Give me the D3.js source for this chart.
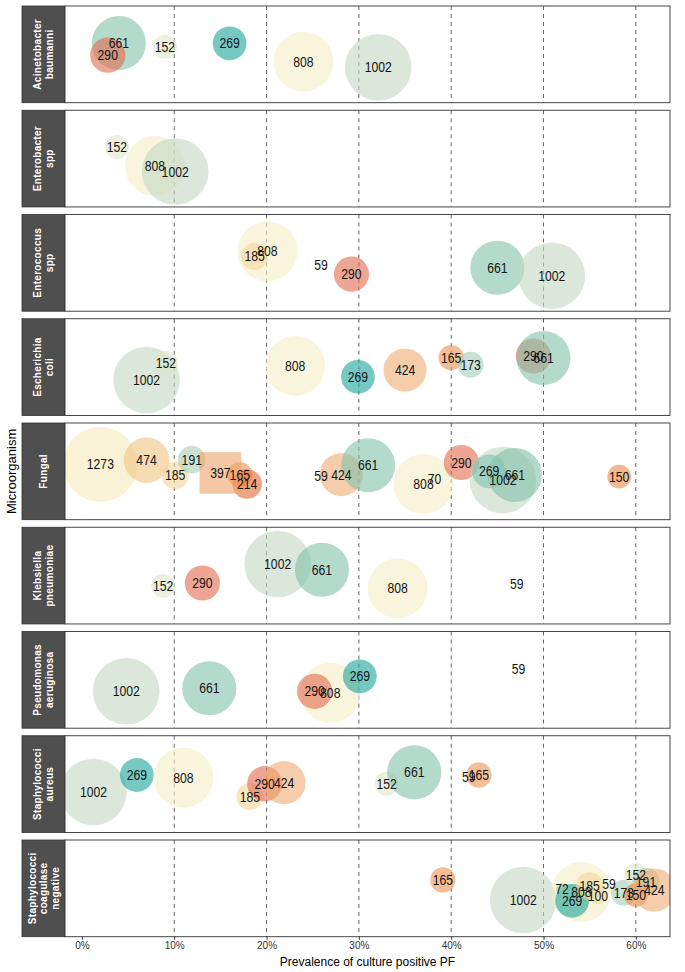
<!DOCTYPE html>
<html>
<head>
<meta charset="utf-8">
<script src="https://cdn.jsdelivr.net/npm/d3@7"></script>
<style>
  html, body { margin: 0; padding: 0; background: #fff; }
  svg { display: block; font-family: "Liberation Sans", Arial, Helvetica, sans-serif; }
</style>
</head>
<body>
<svg id="chart" width="685" height="972"></svg>
<script>
// ---------------- DATA ----------------
const organisms = [
  "Acinetobacter baumanni",
  "Enterobacter spp",
  "Enterococcus spp",
  "Escherichia coli",
  "Fungal",
  "Klebsiella pneumoniae",
  "Pseudomonas aeruginosa",
  "Staphylococci aureus",
  "Staphylococci coagulase negative"
];

// each row: [study sample size, prevalence (%), vertical jitter]
const acinetobacter = [[661,4.0,0.14],[290,2.8,-0.01],[152,9.0,0.095],[269,16.0,0.137],[808,24.0,-0.09],[1002,32.1,-0.16]];
const enterobacter  = [[152,3.8,0.144],[808,7.9,-0.09],[1002,10.1,-0.16]];
const enterococcus  = [[808,20.1,0.143],[185,18.7,0.08],[59,25.9,-0.02],[290,29.2,-0.14],[661,45.0,-0.06],[1002,50.9,-0.16]];
const ecoli         = [[1002,7.0,-0.16],[152,9.1,0.055],[808,23.1,0.014],[269,29.9,-0.12],[424,35.0,-0.036],[165,40.0,0.117],[173,42.1,0.03],[290,48.9,0.138],[661,50.0,0.113]];
const fungal        = [[1273,2.0,0.087],[474,7.0,0.14],[185,10.1,-0.05],[191,11.9,0.145],[397,15.0,-0.02],[165,17.1,-0.04],[214,17.9,-0.157],[59,25.9,-0.06],[424,28.1,-0.04],[661,31.0,0.075],[808,37.0,-0.157],[70,38.2,-0.1],[290,41.1,0.11],[269,44.1,0.0],[1002,45.6,-0.107],[661,46.9,-0.045],[150,58.2,-0.066]];
const klebsiella    = [[152,8.8,-0.13],[290,13.05,-0.092],[1002,21.2,0.144],[661,26.0,0.073],[808,34.2,-0.158],[59,47.1,-0.104]];
const pseudomonas   = [[1002,4.8,-0.142],[661,13.8,-0.105],[808,26.9,-0.16],[290,25.2,-0.142],[269,30.1,0.044],[59,47.3,0.139]];
const saureus       = [[1002,1.25,-0.098],[269,5.95,0.113],[808,11.0,0.08],[185,18.2,-0.156],[290,19.8,0.005],[424,21.9,0.018],[152,33.0,0.005],[661,36.0,0.146],[59,41.9,0.088],[165,43.0,0.113]];
const scn           = [[165,39.1,0.104],[1002,47.8,-0.145],[808,54.1,-0.045],[269,53.1,-0.154],[72,52.0,-0.01],[185,55.0,0.03],[100,55.9,-0.09],[59,57.1,0.06],[173,58.7,-0.054],[152,60.0,0.166],[191,61.1,0.083],[150,60.0,-0.083],[424,62.0,-0.02]];
const panelData = [acinetobacter, enterobacter, enterococcus, ecoli, fungal, klebsiella, pseudomonas, saureus, scn];

const studySizes  = [1273, 1002, 808, 661, 474, 424, 397, 290, 269, 214, 191, 185, 173, 165, 152, 150, 100, 72, 70, 59];
const studyColors = ["#f7e9bc","#c1d7c1","#f3eec5","#82c1aa","#eec582","#eeac71","#eea369","#e2694d","#1aa39b","#e3692f","#accdb4","#f3d59b","#a3cdbc","#eb9350","#dfe6c8","#e98a48","#eedd9a","#8cc7b0","#f3eec5","#ffffff"];
const squareStudies = [397];

const xTicks = [0, 10, 20, 30, 40, 50, 60];
const xTitle = "Prevalence of culture positive PF";
const yTitle = "Microorganism";

// ---------------- LAYOUT ----------------
const stripLeft = 22, panelLeft = 65, panelRight = 670;
const panelTop0 = 6, panelH = 96.7, panelStep = 104.25;

const svg = d3.select("#chart");
const x = d3.scaleLinear().domain([-1.83, 63.7]).range([panelLeft, panelRight]);
const sizeT = d3.scaleLinear().domain([d3.min(studySizes), d3.max(studySizes)]).range([0, 1]);
const rLin = d3.scaleLinear().domain([0, 1]).range([2.2, 37.5]);
const radius = n => rLin(Math.sqrt(sizeT(n)));
const color = d3.scaleOrdinal().domain(studySizes).range(studyColors);

organisms.forEach((org, i) => {
  const top = panelTop0 + i * panelStep;
  const y = d3.scaleLinear().domain([-0.6, 0.6]).range([top + panelH, top]);
  const g = svg.append("g");

  const clipId = "clip" + i;
  svg.append("clipPath").attr("id", clipId)
    .append("rect").attr("x", panelLeft).attr("y", top).attr("width", panelRight - panelLeft).attr("height", panelH);

  // strip
  g.append("rect").attr("x", stripLeft).attr("y", top).attr("width", panelLeft - stripLeft).attr("height", panelH)
    .attr("fill", "#4f4f4f").attr("stroke", "#333").attr("stroke-width", 0.8);
  const lines = org.split(" ");
  const cx = (stripLeft + panelLeft) / 2, cy = top + panelH / 2;
  const lh = 11.5;
  const st = g.append("text")
    .attr("transform", `translate(${cx},${cy}) rotate(-90)`)
    .attr("text-anchor", "middle").attr("fill", "#fff").attr("font-weight", "bold")
    .attr("font-size", "10px").attr("letter-spacing", "0.3px");
  lines.forEach((ln, k) => {
    st.append("tspan").attr("x", 0)
      .attr("y", (k - (lines.length - 1) / 2) * lh)
      .attr("dy", "0.35em").text(ln);
  });

  g.append("rect").attr("x", panelLeft).attr("y", top).attr("width", panelRight - panelLeft).attr("height", panelH)
    .attr("fill", "#fff");

  g.selectAll("line.ref").data(xTicks.filter(t => t > 0)).enter().append("line")
    .attr("x1", d => x(d)).attr("x2", d => x(d)).attr("y1", top).attr("y2", top + panelH)
    .attr("stroke", "#555").attr("stroke-width", 0.9).attr("stroke-dasharray", "4,4");

  const data = panelData[i].map(r => ({ n: r[0], p: r[1], j: r[2] }));
  const marks = g.append("g").attr("clip-path", `url(#${clipId})`);
  marks.selectAll("circle").data(data.filter(d => !squareStudies.includes(d.n))).enter().append("circle")
    .attr("cx", d => x(d.p)).attr("cy", d => y(d.j)).attr("r", d => radius(d.n))
    .attr("fill", d => color(d.n)).attr("fill-opacity", 0.6);
  marks.selectAll("rect.sq").data(data.filter(d => squareStudies.includes(d.n))).enter().append("rect")
    .attr("x", d => x(d.p) - radius(d.n)).attr("y", d => y(d.j) - radius(d.n))
    .attr("width", d => 2 * radius(d.n)).attr("height", d => 2 * radius(d.n))
    .attr("fill", d => color(d.n)).attr("fill-opacity", 0.6);

  marks.selectAll("text").data(data).enter().append("text")
    .attr("transform", d => `translate(${x(d.p)},${y(d.j)}) scale(0.87,1)`)
    .attr("text-anchor", "middle").attr("dy", "0.36em")
    .attr("font-size", "14px").attr("fill", "#141414")
    .text(d => d.n);

  g.append("rect").attr("x", panelLeft).attr("y", top).attr("width", panelRight - panelLeft).attr("height", panelH)
    .attr("fill", "none").attr("stroke", "#333").attr("stroke-width", 0.9);

  if (i === organisms.length - 1) {
    const ax = svg.append("g").attr("transform", `translate(0,${top + panelH})`)
      .call(d3.axisBottom(x).tickValues(xTicks).tickFormat(d => d + "%").tickSize(3).tickPadding(2));
    ax.select(".domain").remove();
    ax.selectAll(".tick line").attr("stroke", "#333");
    ax.selectAll(".tick text").attr("fill", "#333").attr("font-size", "10px")
      .attr("font-family", "Liberation Sans, Arial, sans-serif");
  }
});

svg.append("text").attr("x", (panelLeft + panelRight) / 2).attr("y", 962).attr("dy", "0.35em")
  .attr("text-anchor", "middle").attr("font-size", "12px").attr("fill", "#000").text(xTitle);
const yMid = panelTop0 + (organisms.length * panelStep - (panelStep - panelH)) / 2;
svg.append("text").attr("transform", `translate(11,${yMid}) rotate(-90)`).attr("dy", "0.35em")
  .attr("text-anchor", "middle").attr("font-size", "13px").attr("fill", "#000").text(yTitle);
</script>
</body>
</html>
